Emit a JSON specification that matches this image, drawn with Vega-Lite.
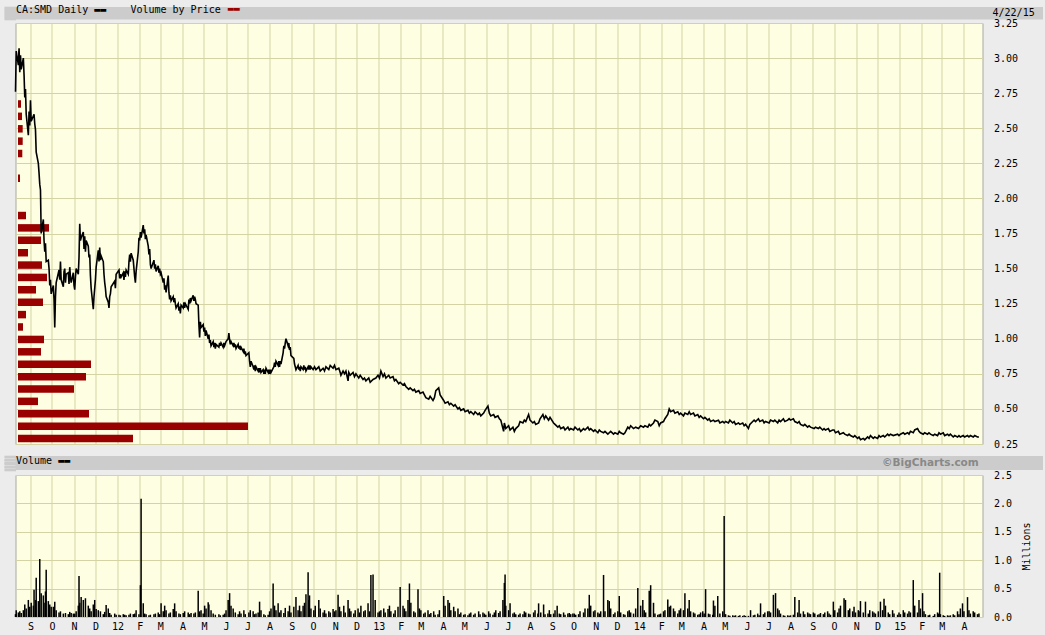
{
  "$schema": "https://vega.github.io/schema/vega-lite/v6.json",
  "background": "#ececec",
  "padding": {"left": 2.5, "top": 4, "right": 3, "bottom": 4},
  "config": {
    "font": "DejaVu Sans Mono",
    "view": {"fill": "#fefee2", "stroke": "#a8a8a8"},
    "axis": {
      "labelFont": "DejaVu Sans Mono", "labelFontSize": 10, "labelColor": "#000000",
      "titleFont": "DejaVu Sans Mono", "titleFontSize": 10, "titleFontWeight": "normal", "titleColor": "#000000",
      "gridColor": "#d3d3a3", "gridOpacity": 1, "gridWidth": 1, "domain": false, "ticks": false
    },
    "title": {
      "font": "DejaVu Sans Mono", "fontSize": 10, "fontWeight": "normal", "color": "#000000", "anchor": "start", "frame": "group",
      "subtitleFont": "DejaVu Sans Mono", "subtitleFontSize": 10
    }
  },
  "datasets": {
    "vbp": [
      {"price": 0.289, "vol": 11.5}, {"price": 0.377, "vol": 23.0}, {"price": 0.466, "vol": 7.1},
      {"price": 0.554, "vol": 2.0}, {"price": 0.642, "vol": 5.6}, {"price": 0.730, "vol": 6.8},
      {"price": 0.819, "vol": 7.3}, {"price": 0.907, "vol": 2.3}, {"price": 0.995, "vol": 2.6},
      {"price": 1.084, "vol": 0.5}, {"price": 1.172, "vol": 0.8}, {"price": 1.260, "vol": 2.5},
      {"price": 1.349, "vol": 1.8}, {"price": 1.437, "vol": 2.9}, {"price": 1.525, "vol": 2.4},
      {"price": 1.613, "vol": 1.0}, {"price": 1.702, "vol": 2.3}, {"price": 1.790, "vol": 3.1},
      {"price": 1.878, "vol": 0.8}, {"price": 2.143, "vol": 0.2}, {"price": 2.320, "vol": 0.43},
      {"price": 2.408, "vol": 0.47}, {"price": 2.496, "vol": 0.47}, {"price": 2.585, "vol": 0.4},
      {"price": 2.673, "vol": 0.3}, {"price": 3.026, "vol": 0.1}
    ],
    "price": [
      {"d": "2011/08/11", "p": 2.76}, {"d": "2011/08/12", "p": 3.05}, {"d": "2011/08/15", "p": 2.95},
      {"d": "2011/08/16", "p": 3.07}, {"d": "2011/08/17", "p": 2.90}, {"d": "2011/08/18", "p": 3.02},
      {"d": "2011/08/19", "p": 2.92}, {"d": "2011/08/22", "p": 3.00}, {"d": "2011/08/23", "p": 2.88},
      {"d": "2011/08/24", "p": 2.72}, {"d": "2011/08/25", "p": 2.78}, {"d": "2011/08/26", "p": 2.60},
      {"d": "2011/08/29", "p": 2.45}, {"d": "2011/08/30", "p": 2.62}, {"d": "2011/08/31", "p": 2.52},
      {"d": "2011/09/01", "p": 2.70}, {"d": "2011/09/02", "p": 2.55}, {"d": "2011/09/06", "p": 2.60},
      {"d": "2011/09/07", "p": 2.53}, {"d": "2011/09/08", "p": 2.49}, {"d": "2011/09/09", "p": 2.33},
      {"d": "2011/09/12", "p": 2.25}, {"d": "2011/09/13", "p": 2.18}, {"d": "2011/09/14", "p": 2.10},
      {"d": "2011/09/15", "p": 2.06}, {"d": "2011/09/16", "p": 1.75}, {"d": "2011/09/19", "p": 1.85},
      {"d": "2011/09/20", "p": 1.70}, {"d": "2011/09/21", "p": 1.62}, {"d": "2011/09/22", "p": 1.68},
      {"d": "2011/09/23", "p": 1.55}, {"d": "2011/09/26", "p": 1.56}, {"d": "2011/09/27", "p": 1.50},
      {"d": "2011/09/28", "p": 1.38}, {"d": "2011/09/29", "p": 1.42}, {"d": "2011/09/30", "p": 1.32},
      {"d": "2011/10/03", "p": 1.38}, {"d": "2011/10/04", "p": 1.28}, {"d": "2011/10/05", "p": 1.08},
      {"d": "2011/10/06", "p": 1.30}, {"d": "2011/10/07", "p": 1.40}, {"d": "2011/10/11", "p": 1.49},
      {"d": "2011/10/12", "p": 1.42}, {"d": "2011/10/13", "p": 1.55}, {"d": "2011/10/14", "p": 1.42},
      {"d": "2011/10/17", "p": 1.37}, {"d": "2011/10/18", "p": 1.48}, {"d": "2011/10/19", "p": 1.50},
      {"d": "2011/10/20", "p": 1.40}, {"d": "2011/10/21", "p": 1.46}, {"d": "2011/10/24", "p": 1.47},
      {"d": "2011/10/25", "p": 1.39}, {"d": "2011/10/26", "p": 1.51}, {"d": "2011/10/27", "p": 1.44},
      {"d": "2011/10/28", "p": 1.40}, {"d": "2011/10/31", "p": 1.47}, {"d": "2011/11/01", "p": 1.38},
      {"d": "2011/11/02", "p": 1.35}, {"d": "2011/11/03", "p": 1.44}, {"d": "2011/11/04", "p": 1.50},
      {"d": "2011/11/07", "p": 1.46}, {"d": "2011/11/08", "p": 1.58}, {"d": "2011/11/09", "p": 1.82},
      {"d": "2011/11/10", "p": 1.70}, {"d": "2011/11/11", "p": 1.72}, {"d": "2011/11/14", "p": 1.76},
      {"d": "2011/11/15", "p": 1.64}, {"d": "2011/11/16", "p": 1.73}, {"d": "2011/11/17", "p": 1.62},
      {"d": "2011/11/18", "p": 1.70}, {"d": "2011/11/21", "p": 1.66}, {"d": "2011/11/22", "p": 1.58},
      {"d": "2011/11/23", "p": 1.60}, {"d": "2011/11/24", "p": 1.45}, {"d": "2011/11/25", "p": 1.36},
      {"d": "2011/11/28", "p": 1.21}, {"d": "2011/11/29", "p": 1.30}, {"d": "2011/11/30", "p": 1.36},
      {"d": "2011/12/01", "p": 1.42}, {"d": "2011/12/02", "p": 1.51}, {"d": "2011/12/05", "p": 1.63},
      {"d": "2011/12/06", "p": 1.55}, {"d": "2011/12/07", "p": 1.65}, {"d": "2011/12/08", "p": 1.56},
      {"d": "2011/12/09", "p": 1.59}, {"d": "2011/12/12", "p": 1.55}, {"d": "2011/12/13", "p": 1.46},
      {"d": "2011/12/14", "p": 1.40}, {"d": "2011/12/15", "p": 1.36}, {"d": "2011/12/16", "p": 1.30},
      {"d": "2011/12/19", "p": 1.26}, {"d": "2011/12/20", "p": 1.22}, {"d": "2011/12/21", "p": 1.30},
      {"d": "2011/12/22", "p": 1.32}, {"d": "2011/12/23", "p": 1.37}, {"d": "2011/12/28", "p": 1.41},
      {"d": "2011/12/29", "p": 1.36}, {"d": "2011/12/30", "p": 1.46}, {"d": "2012/01/03", "p": 1.49},
      {"d": "2012/01/04", "p": 1.43}, {"d": "2012/01/05", "p": 1.46}, {"d": "2012/01/06", "p": 1.44},
      {"d": "2012/01/09", "p": 1.47}, {"d": "2012/01/10", "p": 1.42}, {"d": "2012/01/11", "p": 1.48},
      {"d": "2012/01/12", "p": 1.44}, {"d": "2012/01/13", "p": 1.49}, {"d": "2012/01/16", "p": 1.46},
      {"d": "2012/01/17", "p": 1.55}, {"d": "2012/01/18", "p": 1.60}, {"d": "2012/01/19", "p": 1.55},
      {"d": "2012/01/20", "p": 1.61}, {"d": "2012/01/23", "p": 1.56}, {"d": "2012/01/24", "p": 1.50},
      {"d": "2012/01/25", "p": 1.44}, {"d": "2012/01/26", "p": 1.40}, {"d": "2012/01/27", "p": 1.48},
      {"d": "2012/01/30", "p": 1.62}, {"d": "2012/01/31", "p": 1.72}, {"d": "2012/02/01", "p": 1.70},
      {"d": "2012/02/02", "p": 1.76}, {"d": "2012/02/03", "p": 1.72}, {"d": "2012/02/06", "p": 1.81},
      {"d": "2012/02/07", "p": 1.75}, {"d": "2012/02/08", "p": 1.78}, {"d": "2012/02/09", "p": 1.71},
      {"d": "2012/02/10", "p": 1.74}, {"d": "2012/02/13", "p": 1.66}, {"d": "2012/02/14", "p": 1.60},
      {"d": "2012/02/15", "p": 1.64}, {"d": "2012/02/16", "p": 1.53}, {"d": "2012/02/17", "p": 1.50},
      {"d": "2012/02/21", "p": 1.56}, {"d": "2012/02/22", "p": 1.50}, {"d": "2012/02/23", "p": 1.53},
      {"d": "2012/02/24", "p": 1.48}, {"d": "2012/02/27", "p": 1.52}, {"d": "2012/02/28", "p": 1.47},
      {"d": "2012/02/29", "p": 1.50}, {"d": "2012/03/01", "p": 1.46}, {"d": "2012/03/02", "p": 1.47},
      {"d": "2012/03/05", "p": 1.40}, {"d": "2012/03/06", "p": 1.43}, {"d": "2012/03/07", "p": 1.35},
      {"d": "2012/03/08", "p": 1.38}, {"d": "2012/03/09", "p": 1.33}, {"d": "2012/03/12", "p": 1.45},
      {"d": "2012/03/13", "p": 1.33}, {"d": "2012/03/14", "p": 1.28}, {"d": "2012/03/15", "p": 1.31},
      {"d": "2012/03/16", "p": 1.27}, {"d": "2012/03/19", "p": 1.30}, {"d": "2012/03/20", "p": 1.26},
      {"d": "2012/03/21", "p": 1.29}, {"d": "2012/03/22", "p": 1.25}, {"d": "2012/03/23", "p": 1.22},
      {"d": "2012/03/26", "p": 1.25}, {"d": "2012/03/27", "p": 1.20}, {"d": "2012/03/28", "p": 1.23},
      {"d": "2012/03/29", "p": 1.18}, {"d": "2012/03/30", "p": 1.24}, {"d": "2012/04/02", "p": 1.22},
      {"d": "2012/04/03", "p": 1.26}, {"d": "2012/04/04", "p": 1.22}, {"d": "2012/04/05", "p": 1.25},
      {"d": "2012/04/09", "p": 1.21}, {"d": "2012/04/10", "p": 1.28}, {"d": "2012/04/11", "p": 1.25},
      {"d": "2012/04/12", "p": 1.29}, {"d": "2012/04/13", "p": 1.27}, {"d": "2012/04/16", "p": 1.31},
      {"d": "2012/04/17", "p": 1.27}, {"d": "2012/04/18", "p": 1.30}, {"d": "2012/04/19", "p": 1.28},
      {"d": "2012/04/20", "p": 1.25}, {"d": "2012/04/23", "p": 1.24}, {"d": "2012/04/24", "p": 1.10},
      {"d": "2012/04/25", "p": 1.01}, {"d": "2012/04/26", "p": 1.12}, {"d": "2012/04/27", "p": 1.08},
      {"d": "2012/04/30", "p": 1.10}, {"d": "2012/05/01", "p": 1.05}, {"d": "2012/05/02", "p": 1.08},
      {"d": "2012/05/03", "p": 1.02}, {"d": "2012/05/04", "p": 1.06}, {"d": "2012/05/07", "p": 1.00},
      {"d": "2012/05/08", "p": 1.03}, {"d": "2012/05/09", "p": 0.97}, {"d": "2012/05/10", "p": 0.99},
      {"d": "2012/05/11", "p": 0.95}, {"d": "2012/05/14", "p": 0.98}, {"d": "2012/05/15", "p": 0.94},
      {"d": "2012/05/16", "p": 0.97}, {"d": "2012/05/17", "p": 0.93}, {"d": "2012/05/18", "p": 0.96},
      {"d": "2012/05/22", "p": 0.94}, {"d": "2012/05/23", "p": 0.97}, {"d": "2012/05/24", "p": 0.95},
      {"d": "2012/05/25", "p": 0.97}, {"d": "2012/05/28", "p": 0.94}, {"d": "2012/05/29", "p": 0.97},
      {"d": "2012/05/30", "p": 0.95}, {"d": "2012/06/01", "p": 0.98}, {"d": "2012/06/04", "p": 1.00},
      {"d": "2012/06/05", "p": 1.04}, {"d": "2012/06/06", "p": 0.99}, {"d": "2012/06/07", "p": 0.96},
      {"d": "2012/06/08", "p": 0.98}, {"d": "2012/06/11", "p": 0.95}, {"d": "2012/06/12", "p": 0.97},
      {"d": "2012/06/13", "p": 0.94}, {"d": "2012/06/14", "p": 0.96}, {"d": "2012/06/15", "p": 0.93},
      {"d": "2012/06/18", "p": 0.96}, {"d": "2012/06/19", "p": 0.93}, {"d": "2012/06/20", "p": 0.95},
      {"d": "2012/06/21", "p": 0.92}, {"d": "2012/06/22", "p": 0.94}, {"d": "2012/06/25", "p": 0.91},
      {"d": "2012/06/26", "p": 0.93}, {"d": "2012/06/27", "p": 0.89}, {"d": "2012/06/28", "p": 0.91},
      {"d": "2012/06/29", "p": 0.88}, {"d": "2012/07/03", "p": 0.90}, {"d": "2012/07/04", "p": 0.84},
      {"d": "2012/07/05", "p": 0.80}, {"d": "2012/07/06", "p": 0.84}, {"d": "2012/07/09", "p": 0.80},
      {"d": "2012/07/10", "p": 0.78}, {"d": "2012/07/11", "p": 0.81}, {"d": "2012/07/12", "p": 0.77},
      {"d": "2012/07/13", "p": 0.80}, {"d": "2012/07/16", "p": 0.77}, {"d": "2012/07/17", "p": 0.79},
      {"d": "2012/07/18", "p": 0.76}, {"d": "2012/07/19", "p": 0.79}, {"d": "2012/07/20", "p": 0.76},
      {"d": "2012/07/23", "p": 0.78}, {"d": "2012/07/24", "p": 0.75}, {"d": "2012/07/25", "p": 0.78},
      {"d": "2012/07/26", "p": 0.75}, {"d": "2012/07/27", "p": 0.79}, {"d": "2012/07/30", "p": 0.76},
      {"d": "2012/07/31", "p": 0.78}, {"d": "2012/08/01", "p": 0.75}, {"d": "2012/08/02", "p": 0.78},
      {"d": "2012/08/03", "p": 0.76}, {"d": "2012/08/07", "p": 0.80}, {"d": "2012/08/08", "p": 0.83},
      {"d": "2012/08/09", "p": 0.80}, {"d": "2012/08/10", "p": 0.84}, {"d": "2012/08/13", "p": 0.81},
      {"d": "2012/08/14", "p": 0.84}, {"d": "2012/08/15", "p": 0.80}, {"d": "2012/08/16", "p": 0.84},
      {"d": "2012/08/17", "p": 0.82}, {"d": "2012/08/20", "p": 0.90}, {"d": "2012/08/21", "p": 0.95},
      {"d": "2012/08/22", "p": 0.93}, {"d": "2012/08/23", "p": 0.97}, {"d": "2012/08/24", "p": 1.00},
      {"d": "2012/08/27", "p": 0.95}, {"d": "2012/08/28", "p": 0.97}, {"d": "2012/08/29", "p": 0.92},
      {"d": "2012/08/30", "p": 0.94}, {"d": "2012/08/31", "p": 0.88}, {"d": "2012/09/04", "p": 0.86},
      {"d": "2012/09/05", "p": 0.82}, {"d": "2012/09/06", "p": 0.80}, {"d": "2012/09/07", "p": 0.78},
      {"d": "2012/09/10", "p": 0.81}, {"d": "2012/09/11", "p": 0.78}, {"d": "2012/09/12", "p": 0.80},
      {"d": "2012/09/13", "p": 0.77}, {"d": "2012/09/14", "p": 0.80}, {"d": "2012/09/17", "p": 0.78},
      {"d": "2012/09/18", "p": 0.81}, {"d": "2012/09/19", "p": 0.78}, {"d": "2012/09/20", "p": 0.80},
      {"d": "2012/09/21", "p": 0.77}, {"d": "2012/09/24", "p": 0.80}, {"d": "2012/09/25", "p": 0.78},
      {"d": "2012/09/26", "p": 0.81}, {"d": "2012/09/27", "p": 0.78}, {"d": "2012/09/28", "p": 0.80},
      {"d": "2012/10/01", "p": 0.78}, {"d": "2012/10/03", "p": 0.80}, {"d": "2012/10/05", "p": 0.78},
      {"d": "2012/10/09", "p": 0.80}, {"d": "2012/10/11", "p": 0.77}, {"d": "2012/10/15", "p": 0.79},
      {"d": "2012/10/17", "p": 0.77}, {"d": "2012/10/19", "p": 0.80}, {"d": "2012/10/23", "p": 0.78},
      {"d": "2012/10/25", "p": 0.81}, {"d": "2012/10/29", "p": 0.79}, {"d": "2012/10/31", "p": 0.81},
      {"d": "2012/11/02", "p": 0.78}, {"d": "2012/11/06", "p": 0.79}, {"d": "2012/11/08", "p": 0.76},
      {"d": "2012/11/09", "p": 0.74}, {"d": "2012/11/12", "p": 0.77}, {"d": "2012/11/14", "p": 0.75},
      {"d": "2012/11/16", "p": 0.77}, {"d": "2012/11/19", "p": 0.70}, {"d": "2012/11/20", "p": 0.76},
      {"d": "2012/11/22", "p": 0.74}, {"d": "2012/11/26", "p": 0.76}, {"d": "2012/11/28", "p": 0.73},
      {"d": "2012/11/30", "p": 0.75}, {"d": "2012/12/04", "p": 0.72}, {"d": "2012/12/06", "p": 0.74},
      {"d": "2012/12/10", "p": 0.71}, {"d": "2012/12/12", "p": 0.72}, {"d": "2012/12/14", "p": 0.70},
      {"d": "2012/12/18", "p": 0.72}, {"d": "2012/12/20", "p": 0.69}, {"d": "2012/12/24", "p": 0.71},
      {"d": "2012/12/28", "p": 0.72}, {"d": "2012/12/31", "p": 0.74}, {"d": "2013/01/02", "p": 0.72},
      {"d": "2013/01/04", "p": 0.77}, {"d": "2013/01/07", "p": 0.73}, {"d": "2013/01/09", "p": 0.75},
      {"d": "2013/01/11", "p": 0.72}, {"d": "2013/01/15", "p": 0.74}, {"d": "2013/01/17", "p": 0.72},
      {"d": "2013/01/21", "p": 0.73}, {"d": "2013/01/23", "p": 0.70}, {"d": "2013/01/25", "p": 0.71},
      {"d": "2013/01/29", "p": 0.68}, {"d": "2013/01/31", "p": 0.69}, {"d": "2013/02/04", "p": 0.67},
      {"d": "2013/02/06", "p": 0.68}, {"d": "2013/02/08", "p": 0.66}, {"d": "2013/02/12", "p": 0.64},
      {"d": "2013/02/14", "p": 0.65}, {"d": "2013/02/18", "p": 0.63}, {"d": "2013/02/20", "p": 0.64},
      {"d": "2013/02/22", "p": 0.62}, {"d": "2013/02/26", "p": 0.63}, {"d": "2013/02/28", "p": 0.61},
      {"d": "2013/03/04", "p": 0.62}, {"d": "2013/03/06", "p": 0.60}, {"d": "2013/03/08", "p": 0.58},
      {"d": "2013/03/12", "p": 0.57}, {"d": "2013/03/14", "p": 0.59}, {"d": "2013/03/18", "p": 0.56},
      {"d": "2013/03/20", "p": 0.58}, {"d": "2013/03/22", "p": 0.63}, {"d": "2013/03/26", "p": 0.65},
      {"d": "2013/03/28", "p": 0.60}, {"d": "2013/04/02", "p": 0.56}, {"d": "2013/04/04", "p": 0.54},
      {"d": "2013/04/08", "p": 0.55}, {"d": "2013/04/10", "p": 0.53}, {"d": "2013/04/12", "p": 0.54},
      {"d": "2013/04/16", "p": 0.52}, {"d": "2013/04/18", "p": 0.53}, {"d": "2013/04/22", "p": 0.50},
      {"d": "2013/04/24", "p": 0.51}, {"d": "2013/04/26", "p": 0.49}, {"d": "2013/04/30", "p": 0.50},
      {"d": "2013/05/02", "p": 0.48}, {"d": "2013/05/06", "p": 0.49}, {"d": "2013/05/08", "p": 0.47},
      {"d": "2013/05/10", "p": 0.48}, {"d": "2013/05/14", "p": 0.46}, {"d": "2013/05/16", "p": 0.48},
      {"d": "2013/05/20", "p": 0.46}, {"d": "2013/05/22", "p": 0.47}, {"d": "2013/05/24", "p": 0.45},
      {"d": "2013/05/28", "p": 0.47}, {"d": "2013/05/30", "p": 0.49}, {"d": "2013/06/03", "p": 0.52},
      {"d": "2013/06/05", "p": 0.47}, {"d": "2013/06/07", "p": 0.45}, {"d": "2013/06/11", "p": 0.46},
      {"d": "2013/06/13", "p": 0.44}, {"d": "2013/06/17", "p": 0.45}, {"d": "2013/06/19", "p": 0.43},
      {"d": "2013/06/21", "p": 0.42}, {"d": "2013/06/25", "p": 0.34}, {"d": "2013/06/26", "p": 0.40},
      {"d": "2013/06/28", "p": 0.36}, {"d": "2013/07/02", "p": 0.38}, {"d": "2013/07/04", "p": 0.35},
      {"d": "2013/07/08", "p": 0.37}, {"d": "2013/07/10", "p": 0.34}, {"d": "2013/07/12", "p": 0.36},
      {"d": "2013/07/16", "p": 0.38}, {"d": "2013/07/18", "p": 0.41}, {"d": "2013/07/22", "p": 0.40},
      {"d": "2013/07/24", "p": 0.42}, {"d": "2013/07/26", "p": 0.41}, {"d": "2013/07/30", "p": 0.46},
      {"d": "2013/08/01", "p": 0.42}, {"d": "2013/08/05", "p": 0.40}, {"d": "2013/08/07", "p": 0.41},
      {"d": "2013/08/09", "p": 0.39}, {"d": "2013/08/13", "p": 0.40}, {"d": "2013/08/15", "p": 0.43},
      {"d": "2013/08/19", "p": 0.46}, {"d": "2013/08/21", "p": 0.43}, {"d": "2013/08/23", "p": 0.45},
      {"d": "2013/08/27", "p": 0.42}, {"d": "2013/08/29", "p": 0.44}, {"d": "2013/09/03", "p": 0.40},
      {"d": "2013/09/05", "p": 0.39}, {"d": "2013/09/09", "p": 0.37}, {"d": "2013/09/11", "p": 0.38},
      {"d": "2013/09/13", "p": 0.36}, {"d": "2013/09/17", "p": 0.37}, {"d": "2013/09/19", "p": 0.35},
      {"d": "2013/09/23", "p": 0.37}, {"d": "2013/09/25", "p": 0.35}, {"d": "2013/09/27", "p": 0.36},
      {"d": "2013/10/01", "p": 0.35}, {"d": "2013/10/03", "p": 0.37}, {"d": "2013/10/07", "p": 0.35},
      {"d": "2013/10/09", "p": 0.36}, {"d": "2013/10/11", "p": 0.34}, {"d": "2013/10/15", "p": 0.36},
      {"d": "2013/10/17", "p": 0.35}, {"d": "2013/10/21", "p": 0.37}, {"d": "2013/10/23", "p": 0.35},
      {"d": "2013/10/25", "p": 0.36}, {"d": "2013/10/29", "p": 0.34}, {"d": "2013/10/31", "p": 0.35},
      {"d": "2013/11/04", "p": 0.33}, {"d": "2013/11/06", "p": 0.35}, {"d": "2013/11/08", "p": 0.34},
      {"d": "2013/11/12", "p": 0.33}, {"d": "2013/11/14", "p": 0.34}, {"d": "2013/11/18", "p": 0.32},
      {"d": "2013/11/20", "p": 0.33}, {"d": "2013/11/22", "p": 0.34}, {"d": "2013/11/26", "p": 0.32},
      {"d": "2013/11/28", "p": 0.33}, {"d": "2013/12/02", "p": 0.32}, {"d": "2013/12/04", "p": 0.34},
      {"d": "2013/12/06", "p": 0.33}, {"d": "2013/12/10", "p": 0.32}, {"d": "2013/12/12", "p": 0.33},
      {"d": "2013/12/16", "p": 0.37}, {"d": "2013/12/18", "p": 0.36}, {"d": "2013/12/20", "p": 0.38},
      {"d": "2013/12/24", "p": 0.36}, {"d": "2013/12/27", "p": 0.37}, {"d": "2013/12/31", "p": 0.36},
      {"d": "2014/01/03", "p": 0.38}, {"d": "2014/01/07", "p": 0.37}, {"d": "2014/01/09", "p": 0.38},
      {"d": "2014/01/13", "p": 0.37}, {"d": "2014/01/15", "p": 0.39}, {"d": "2014/01/17", "p": 0.38},
      {"d": "2014/01/21", "p": 0.40}, {"d": "2014/01/23", "p": 0.42}, {"d": "2014/01/27", "p": 0.41},
      {"d": "2014/01/29", "p": 0.38}, {"d": "2014/01/31", "p": 0.40}, {"d": "2014/02/04", "p": 0.41},
      {"d": "2014/02/06", "p": 0.43}, {"d": "2014/02/10", "p": 0.46}, {"d": "2014/02/12", "p": 0.50},
      {"d": "2014/02/14", "p": 0.48}, {"d": "2014/02/18", "p": 0.49}, {"d": "2014/02/20", "p": 0.47},
      {"d": "2014/02/24", "p": 0.48}, {"d": "2014/02/26", "p": 0.46}, {"d": "2014/02/28", "p": 0.47},
      {"d": "2014/03/04", "p": 0.45}, {"d": "2014/03/06", "p": 0.47}, {"d": "2014/03/10", "p": 0.46},
      {"d": "2014/03/12", "p": 0.48}, {"d": "2014/03/14", "p": 0.46}, {"d": "2014/03/18", "p": 0.47},
      {"d": "2014/03/20", "p": 0.45}, {"d": "2014/03/24", "p": 0.46}, {"d": "2014/03/26", "p": 0.44},
      {"d": "2014/03/28", "p": 0.45}, {"d": "2014/04/01", "p": 0.43}, {"d": "2014/04/03", "p": 0.44},
      {"d": "2014/04/07", "p": 0.42}, {"d": "2014/04/09", "p": 0.43}, {"d": "2014/04/11", "p": 0.41},
      {"d": "2014/04/15", "p": 0.42}, {"d": "2014/04/17", "p": 0.41}, {"d": "2014/04/22", "p": 0.42},
      {"d": "2014/04/24", "p": 0.40}, {"d": "2014/04/28", "p": 0.41}, {"d": "2014/04/30", "p": 0.40},
      {"d": "2014/05/02", "p": 0.41}, {"d": "2014/05/06", "p": 0.40}, {"d": "2014/05/08", "p": 0.42},
      {"d": "2014/05/12", "p": 0.40}, {"d": "2014/05/14", "p": 0.41}, {"d": "2014/05/16", "p": 0.39},
      {"d": "2014/05/20", "p": 0.40}, {"d": "2014/05/22", "p": 0.39}, {"d": "2014/05/26", "p": 0.40},
      {"d": "2014/05/28", "p": 0.38}, {"d": "2014/05/30", "p": 0.39}, {"d": "2014/06/03", "p": 0.36},
      {"d": "2014/06/05", "p": 0.39}, {"d": "2014/06/09", "p": 0.41}, {"d": "2014/06/11", "p": 0.42},
      {"d": "2014/06/13", "p": 0.41}, {"d": "2014/06/17", "p": 0.43}, {"d": "2014/06/19", "p": 0.41},
      {"d": "2014/06/23", "p": 0.42}, {"d": "2014/06/25", "p": 0.40}, {"d": "2014/06/27", "p": 0.41},
      {"d": "2014/07/02", "p": 0.40}, {"d": "2014/07/04", "p": 0.42}, {"d": "2014/07/08", "p": 0.41},
      {"d": "2014/07/10", "p": 0.42}, {"d": "2014/07/14", "p": 0.40}, {"d": "2014/07/16", "p": 0.42},
      {"d": "2014/07/18", "p": 0.41}, {"d": "2014/07/22", "p": 0.43}, {"d": "2014/07/24", "p": 0.41},
      {"d": "2014/07/28", "p": 0.42}, {"d": "2014/07/30", "p": 0.43}, {"d": "2014/08/01", "p": 0.42},
      {"d": "2014/08/05", "p": 0.43}, {"d": "2014/08/07", "p": 0.41}, {"d": "2014/08/11", "p": 0.40},
      {"d": "2014/08/13", "p": 0.41}, {"d": "2014/08/15", "p": 0.39}, {"d": "2014/08/19", "p": 0.38},
      {"d": "2014/08/21", "p": 0.39}, {"d": "2014/08/25", "p": 0.37}, {"d": "2014/08/27", "p": 0.38},
      {"d": "2014/08/29", "p": 0.37}, {"d": "2014/09/03", "p": 0.36}, {"d": "2014/09/05", "p": 0.37},
      {"d": "2014/09/09", "p": 0.36}, {"d": "2014/09/11", "p": 0.37}, {"d": "2014/09/15", "p": 0.35},
      {"d": "2014/09/17", "p": 0.36}, {"d": "2014/09/19", "p": 0.35}, {"d": "2014/09/23", "p": 0.36},
      {"d": "2014/09/25", "p": 0.34}, {"d": "2014/09/29", "p": 0.35}, {"d": "2014/10/01", "p": 0.35},
      {"d": "2014/10/03", "p": 0.33}, {"d": "2014/10/07", "p": 0.34}, {"d": "2014/10/09", "p": 0.32},
      {"d": "2014/10/14", "p": 0.33}, {"d": "2014/10/16", "p": 0.32}, {"d": "2014/10/20", "p": 0.31},
      {"d": "2014/10/22", "p": 0.32}, {"d": "2014/10/24", "p": 0.31}, {"d": "2014/10/28", "p": 0.30},
      {"d": "2014/10/30", "p": 0.31}, {"d": "2014/11/03", "p": 0.29}, {"d": "2014/11/05", "p": 0.30},
      {"d": "2014/11/07", "p": 0.28}, {"d": "2014/11/11", "p": 0.29}, {"d": "2014/11/13", "p": 0.28},
      {"d": "2014/11/17", "p": 0.30}, {"d": "2014/11/19", "p": 0.29}, {"d": "2014/11/21", "p": 0.31},
      {"d": "2014/11/25", "p": 0.29}, {"d": "2014/11/27", "p": 0.30}, {"d": "2014/12/01", "p": 0.29},
      {"d": "2014/12/03", "p": 0.31}, {"d": "2014/12/05", "p": 0.30}, {"d": "2014/12/09", "p": 0.31},
      {"d": "2014/12/11", "p": 0.30}, {"d": "2014/12/15", "p": 0.32}, {"d": "2014/12/17", "p": 0.31},
      {"d": "2014/12/19", "p": 0.32}, {"d": "2014/12/23", "p": 0.31}, {"d": "2014/12/29", "p": 0.32},
      {"d": "2014/12/31", "p": 0.31}, {"d": "2015/01/02", "p": 0.32}, {"d": "2015/01/06", "p": 0.33},
      {"d": "2015/01/08", "p": 0.32}, {"d": "2015/01/12", "p": 0.33}, {"d": "2015/01/14", "p": 0.32},
      {"d": "2015/01/16", "p": 0.34}, {"d": "2015/01/20", "p": 0.33}, {"d": "2015/01/22", "p": 0.35},
      {"d": "2015/01/26", "p": 0.36}, {"d": "2015/01/28", "p": 0.34}, {"d": "2015/01/30", "p": 0.33},
      {"d": "2015/02/03", "p": 0.32}, {"d": "2015/02/05", "p": 0.33}, {"d": "2015/02/09", "p": 0.32},
      {"d": "2015/02/11", "p": 0.33}, {"d": "2015/02/13", "p": 0.32}, {"d": "2015/02/17", "p": 0.31},
      {"d": "2015/02/19", "p": 0.32}, {"d": "2015/02/23", "p": 0.31}, {"d": "2015/02/25", "p": 0.33},
      {"d": "2015/02/27", "p": 0.32}, {"d": "2015/03/03", "p": 0.33}, {"d": "2015/03/05", "p": 0.31},
      {"d": "2015/03/09", "p": 0.32}, {"d": "2015/03/11", "p": 0.31}, {"d": "2015/03/13", "p": 0.32},
      {"d": "2015/03/17", "p": 0.30}, {"d": "2015/03/19", "p": 0.31}, {"d": "2015/03/23", "p": 0.30},
      {"d": "2015/03/25", "p": 0.31}, {"d": "2015/03/27", "p": 0.30}, {"d": "2015/03/31", "p": 0.31},
      {"d": "2015/04/02", "p": 0.30}, {"d": "2015/04/06", "p": 0.31}, {"d": "2015/04/08", "p": 0.30},
      {"d": "2015/04/10", "p": 0.31}, {"d": "2015/04/14", "p": 0.30}, {"d": "2015/04/16", "p": 0.31},
      {"d": "2015/04/20", "p": 0.30}, {"d": "2015/04/22", "p": 0.30}
    ],
    "vol": [
      {"d": "2011/08/11", "v": 0.05}, {"d": "2011/08/12", "v": 0.12}, {"d": "2011/08/15", "v": 0.08}, {"d": "2011/08/17", "v": 0.10},
      {"d": "2011/08/19", "v": 0.07}, {"d": "2011/08/22", "v": 0.12}, {"d": "2011/08/24", "v": 0.22}, {"d": "2011/08/26", "v": 0.15},
      {"d": "2011/08/29", "v": 0.30}, {"d": "2011/08/31", "v": 0.18},
      {"d": "2011/09/02", "v": 0.25}, {"d": "2011/09/05", "v": 0.20}, {"d": "2011/09/06", "v": 0.48}, {"d": "2011/09/08", "v": 0.30},
      {"d": "2011/09/09", "v": 0.69}, {"d": "2011/09/12", "v": 0.28}, {"d": "2011/09/14", "v": 1.02}, {"d": "2011/09/16", "v": 0.42},
      {"d": "2011/09/19", "v": 0.38}, {"d": "2011/09/20", "v": 0.25}, {"d": "2011/09/22", "v": 0.45}, {"d": "2011/09/23", "v": 0.83},
      {"d": "2011/09/26", "v": 0.28}, {"d": "2011/09/28", "v": 0.22}, {"d": "2011/09/30", "v": 0.18},
      {"d": "2011/10/03", "v": 0.18}, {"d": "2011/10/05", "v": 0.27}, {"d": "2011/10/07", "v": 0.12}, {"d": "2011/10/11", "v": 0.08},
      {"d": "2011/10/13", "v": 0.10}, {"d": "2011/10/17", "v": 0.06}, {"d": "2011/10/20", "v": 0.07}, {"d": "2011/10/24", "v": 0.05},
      {"d": "2011/10/26", "v": 0.09}, {"d": "2011/10/28", "v": 0.07}, {"d": "2011/10/31", "v": 0.06},
      {"d": "2011/11/02", "v": 0.06}, {"d": "2011/11/04", "v": 0.10}, {"d": "2011/11/07", "v": 0.20}, {"d": "2011/11/08", "v": 0.72},
      {"d": "2011/11/09", "v": 0.25}, {"d": "2011/11/11", "v": 0.35}, {"d": "2011/11/14", "v": 0.30}, {"d": "2011/11/17", "v": 0.33},
      {"d": "2011/11/21", "v": 0.20}, {"d": "2011/11/23", "v": 0.15}, {"d": "2011/11/25", "v": 0.10}, {"d": "2011/11/28", "v": 0.22},
      {"d": "2011/11/30", "v": 0.30},
      {"d": "2011/12/02", "v": 0.14}, {"d": "2011/12/05", "v": 0.12}, {"d": "2011/12/08", "v": 0.10}, {"d": "2011/12/12", "v": 0.05},
      {"d": "2011/12/14", "v": 0.09}, {"d": "2011/12/16", "v": 0.21}, {"d": "2011/12/19", "v": 0.15}, {"d": "2011/12/21", "v": 0.07},
      {"d": "2011/12/23", "v": 0.04}, {"d": "2011/12/28", "v": 0.06}, {"d": "2011/12/30", "v": 0.04},
      {"d": "2012/01/03", "v": 0.04}, {"d": "2012/01/05", "v": 0.03}, {"d": "2012/01/09", "v": 0.05}, {"d": "2012/01/11", "v": 0.04},
      {"d": "2012/01/13", "v": 0.03}, {"d": "2012/01/17", "v": 0.04}, {"d": "2012/01/19", "v": 0.06}, {"d": "2012/01/23", "v": 0.05},
      {"d": "2012/01/25", "v": 0.06}, {"d": "2012/01/27", "v": 0.12}, {"d": "2012/01/31", "v": 0.05},
      {"d": "2012/02/02", "v": 0.56}, {"d": "2012/02/03", "v": 2.08}, {"d": "2012/02/06", "v": 0.24}, {"d": "2012/02/08", "v": 0.06},
      {"d": "2012/02/10", "v": 0.05}, {"d": "2012/02/14", "v": 0.03}, {"d": "2012/02/16", "v": 0.04}, {"d": "2012/02/21", "v": 0.05},
      {"d": "2012/02/23", "v": 0.06}, {"d": "2012/02/27", "v": 0.08}, {"d": "2012/02/29", "v": 0.05},
      {"d": "2012/03/02", "v": 0.24}, {"d": "2012/03/05", "v": 0.10}, {"d": "2012/03/07", "v": 0.20}, {"d": "2012/03/09", "v": 0.12},
      {"d": "2012/03/13", "v": 0.06}, {"d": "2012/03/15", "v": 0.08}, {"d": "2012/03/19", "v": 0.14}, {"d": "2012/03/21", "v": 0.24},
      {"d": "2012/03/23", "v": 0.10}, {"d": "2012/03/27", "v": 0.06}, {"d": "2012/03/29", "v": 0.05},
      {"d": "2012/04/02", "v": 0.07}, {"d": "2012/04/04", "v": 0.10}, {"d": "2012/04/09", "v": 0.08}, {"d": "2012/04/11", "v": 0.05},
      {"d": "2012/04/13", "v": 0.07}, {"d": "2012/04/17", "v": 0.06}, {"d": "2012/04/19", "v": 0.08}, {"d": "2012/04/23", "v": 0.46},
      {"d": "2012/04/25", "v": 0.10}, {"d": "2012/04/27", "v": 0.12}, {"d": "2012/04/30", "v": 0.06},
      {"d": "2012/05/02", "v": 0.20}, {"d": "2012/05/04", "v": 0.15}, {"d": "2012/05/07", "v": 0.26}, {"d": "2012/05/08", "v": 0.22},
      {"d": "2012/05/11", "v": 0.12}, {"d": "2012/05/14", "v": 0.06}, {"d": "2012/05/17", "v": 0.04}, {"d": "2012/05/22", "v": 0.05},
      {"d": "2012/05/24", "v": 0.03}, {"d": "2012/05/28", "v": 0.04}, {"d": "2012/05/30", "v": 0.06},
      {"d": "2012/06/01", "v": 0.12}, {"d": "2012/06/04", "v": 0.30}, {"d": "2012/06/06", "v": 0.42}, {"d": "2012/06/08", "v": 0.20},
      {"d": "2012/06/11", "v": 0.15}, {"d": "2012/06/14", "v": 0.08}, {"d": "2012/06/18", "v": 0.05}, {"d": "2012/06/20", "v": 0.10},
      {"d": "2012/06/22", "v": 0.06}, {"d": "2012/06/26", "v": 0.12}, {"d": "2012/06/28", "v": 0.05},
      {"d": "2012/07/03", "v": 0.08}, {"d": "2012/07/05", "v": 0.12}, {"d": "2012/07/09", "v": 0.10}, {"d": "2012/07/11", "v": 0.05},
      {"d": "2012/07/13", "v": 0.06}, {"d": "2012/07/16", "v": 0.08}, {"d": "2012/07/18", "v": 0.27}, {"d": "2012/07/20", "v": 0.12},
      {"d": "2012/07/24", "v": 0.05}, {"d": "2012/07/26", "v": 0.03}, {"d": "2012/07/30", "v": 0.04},
      {"d": "2012/08/01", "v": 0.10}, {"d": "2012/08/03", "v": 0.15}, {"d": "2012/08/06", "v": 0.59}, {"d": "2012/08/08", "v": 0.20},
      {"d": "2012/08/10", "v": 0.12}, {"d": "2012/08/13", "v": 0.24}, {"d": "2012/08/15", "v": 0.08}, {"d": "2012/08/17", "v": 0.12},
      {"d": "2012/08/21", "v": 0.07}, {"d": "2012/08/23", "v": 0.16}, {"d": "2012/08/27", "v": 0.10}, {"d": "2012/08/29", "v": 0.20},
      {"d": "2012/08/31", "v": 0.08},
      {"d": "2012/09/04", "v": 0.18}, {"d": "2012/09/07", "v": 0.35}, {"d": "2012/09/10", "v": 0.12}, {"d": "2012/09/12", "v": 0.20},
      {"d": "2012/09/14", "v": 0.10}, {"d": "2012/09/17", "v": 0.20}, {"d": "2012/09/19", "v": 0.25}, {"d": "2012/09/21", "v": 0.40},
      {"d": "2012/09/24", "v": 0.79}, {"d": "2012/09/25", "v": 0.30}, {"d": "2012/09/26", "v": 0.38}, {"d": "2012/09/28", "v": 0.15},
      {"d": "2012/10/02", "v": 0.12}, {"d": "2012/10/04", "v": 0.20}, {"d": "2012/10/09", "v": 0.30}, {"d": "2012/10/11", "v": 0.15},
      {"d": "2012/10/15", "v": 0.08}, {"d": "2012/10/17", "v": 0.12}, {"d": "2012/10/19", "v": 0.06}, {"d": "2012/10/23", "v": 0.10},
      {"d": "2012/10/25", "v": 0.08}, {"d": "2012/10/29", "v": 0.14}, {"d": "2012/10/31", "v": 0.10},
      {"d": "2012/11/02", "v": 0.12}, {"d": "2012/11/05", "v": 0.39}, {"d": "2012/11/07", "v": 0.18}, {"d": "2012/11/09", "v": 0.10},
      {"d": "2012/11/13", "v": 0.20}, {"d": "2012/11/15", "v": 0.08}, {"d": "2012/11/19", "v": 0.30}, {"d": "2012/11/21", "v": 0.15},
      {"d": "2012/11/23", "v": 0.10}, {"d": "2012/11/27", "v": 0.06}, {"d": "2012/11/29", "v": 0.12},
      {"d": "2012/12/03", "v": 0.15}, {"d": "2012/12/05", "v": 0.08}, {"d": "2012/12/07", "v": 0.20}, {"d": "2012/12/11", "v": 0.10},
      {"d": "2012/12/13", "v": 0.12}, {"d": "2012/12/17", "v": 0.24}, {"d": "2012/12/19", "v": 0.10}, {"d": "2012/12/21", "v": 0.74},
      {"d": "2012/12/24", "v": 0.75}, {"d": "2012/12/27", "v": 0.30}, {"d": "2012/12/31", "v": 0.08},
      {"d": "2013/01/02", "v": 0.10}, {"d": "2013/01/04", "v": 0.12}, {"d": "2013/01/08", "v": 0.15}, {"d": "2013/01/10", "v": 0.08},
      {"d": "2013/01/14", "v": 0.14}, {"d": "2013/01/16", "v": 0.20}, {"d": "2013/01/18", "v": 0.10}, {"d": "2013/01/22", "v": 0.06},
      {"d": "2013/01/24", "v": 0.12}, {"d": "2013/01/28", "v": 0.18}, {"d": "2013/01/31", "v": 0.53},
      {"d": "2013/02/04", "v": 0.20}, {"d": "2013/02/06", "v": 0.15}, {"d": "2013/02/08", "v": 0.10}, {"d": "2013/02/11", "v": 0.30},
      {"d": "2013/02/13", "v": 0.59}, {"d": "2013/02/15", "v": 0.25}, {"d": "2013/02/19", "v": 0.10}, {"d": "2013/02/21", "v": 0.08},
      {"d": "2013/02/25", "v": 0.49}, {"d": "2013/02/27", "v": 0.15},
      {"d": "2013/03/01", "v": 0.12}, {"d": "2013/03/05", "v": 0.06}, {"d": "2013/03/07", "v": 0.08}, {"d": "2013/03/11", "v": 0.12},
      {"d": "2013/03/13", "v": 0.05}, {"d": "2013/03/15", "v": 0.07}, {"d": "2013/03/19", "v": 0.10}, {"d": "2013/03/21", "v": 0.04},
      {"d": "2013/03/25", "v": 0.05}, {"d": "2013/03/27", "v": 0.12},
      {"d": "2013/04/02", "v": 0.37}, {"d": "2013/04/04", "v": 0.20}, {"d": "2013/04/08", "v": 0.30}, {"d": "2013/04/10", "v": 0.25},
      {"d": "2013/04/12", "v": 0.12}, {"d": "2013/04/16", "v": 0.18}, {"d": "2013/04/18", "v": 0.10}, {"d": "2013/04/22", "v": 0.15},
      {"d": "2013/04/24", "v": 0.05}, {"d": "2013/04/26", "v": 0.08}, {"d": "2013/04/30", "v": 0.04},
      {"d": "2013/05/02", "v": 0.05}, {"d": "2013/05/06", "v": 0.03}, {"d": "2013/05/08", "v": 0.06}, {"d": "2013/05/10", "v": 0.08},
      {"d": "2013/05/14", "v": 0.04}, {"d": "2013/05/16", "v": 0.06}, {"d": "2013/05/21", "v": 0.10}, {"d": "2013/05/23", "v": 0.05},
      {"d": "2013/05/27", "v": 0.08}, {"d": "2013/05/29", "v": 0.06}, {"d": "2013/05/31", "v": 0.04},
      {"d": "2013/06/04", "v": 0.10}, {"d": "2013/06/06", "v": 0.06}, {"d": "2013/06/10", "v": 0.04}, {"d": "2013/06/12", "v": 0.08},
      {"d": "2013/06/14", "v": 0.12}, {"d": "2013/06/18", "v": 0.07}, {"d": "2013/06/20", "v": 0.10}, {"d": "2013/06/24", "v": 0.30},
      {"d": "2013/06/26", "v": 0.60}, {"d": "2013/06/27", "v": 0.75}, {"d": "2013/06/28", "v": 0.20},
      {"d": "2013/07/02", "v": 0.12}, {"d": "2013/07/04", "v": 0.24}, {"d": "2013/07/08", "v": 0.06}, {"d": "2013/07/10", "v": 0.08},
      {"d": "2013/07/12", "v": 0.05}, {"d": "2013/07/16", "v": 0.04}, {"d": "2013/07/18", "v": 0.06}, {"d": "2013/07/22", "v": 0.05},
      {"d": "2013/07/24", "v": 0.10}, {"d": "2013/07/26", "v": 0.08}, {"d": "2013/07/30", "v": 0.06},
      {"d": "2013/08/01", "v": 0.05}, {"d": "2013/08/06", "v": 0.08}, {"d": "2013/08/08", "v": 0.12}, {"d": "2013/08/12", "v": 0.06},
      {"d": "2013/08/13", "v": 0.24}, {"d": "2013/08/16", "v": 0.08}, {"d": "2013/08/20", "v": 0.22}, {"d": "2013/08/22", "v": 0.05},
      {"d": "2013/08/26", "v": 0.06}, {"d": "2013/08/28", "v": 0.12}, {"d": "2013/08/30", "v": 0.05},
      {"d": "2013/09/03", "v": 0.06}, {"d": "2013/09/05", "v": 0.12}, {"d": "2013/09/08", "v": 0.20}, {"d": "2013/09/11", "v": 0.06},
      {"d": "2013/09/13", "v": 0.05}, {"d": "2013/09/17", "v": 0.08}, {"d": "2013/09/19", "v": 0.04}, {"d": "2013/09/23", "v": 0.06},
      {"d": "2013/09/25", "v": 0.07}, {"d": "2013/09/27", "v": 0.05}, {"d": "2013/09/30", "v": 0.06},
      {"d": "2013/10/02", "v": 0.06}, {"d": "2013/10/04", "v": 0.04}, {"d": "2013/10/08", "v": 0.05}, {"d": "2013/10/10", "v": 0.10},
      {"d": "2013/10/15", "v": 0.08}, {"d": "2013/10/17", "v": 0.15}, {"d": "2013/10/21", "v": 0.15}, {"d": "2013/10/23", "v": 0.39},
      {"d": "2013/10/25", "v": 0.20}, {"d": "2013/10/29", "v": 0.10}, {"d": "2013/10/31", "v": 0.12},
      {"d": "2013/11/04", "v": 0.08}, {"d": "2013/11/06", "v": 0.06}, {"d": "2013/11/08", "v": 0.10}, {"d": "2013/11/12", "v": 0.74},
      {"d": "2013/11/14", "v": 0.10}, {"d": "2013/11/18", "v": 0.30}, {"d": "2013/11/20", "v": 0.28}, {"d": "2013/11/22", "v": 0.15},
      {"d": "2013/11/26", "v": 0.05}, {"d": "2013/11/28", "v": 0.08},
      {"d": "2013/12/02", "v": 0.10}, {"d": "2013/12/04", "v": 0.37}, {"d": "2013/12/06", "v": 0.08}, {"d": "2013/12/10", "v": 0.05},
      {"d": "2013/12/12", "v": 0.04}, {"d": "2013/12/16", "v": 0.10}, {"d": "2013/12/18", "v": 0.12}, {"d": "2013/12/20", "v": 0.08},
      {"d": "2013/12/24", "v": 0.06}, {"d": "2013/12/27", "v": 0.15}, {"d": "2013/12/30", "v": 0.51},
      {"d": "2014/01/03", "v": 0.20}, {"d": "2014/01/06", "v": 0.30}, {"d": "2014/01/08", "v": 0.12}, {"d": "2014/01/10", "v": 0.08},
      {"d": "2014/01/15", "v": 0.46}, {"d": "2014/01/17", "v": 0.56}, {"d": "2014/01/21", "v": 0.25}, {"d": "2014/01/23", "v": 0.06},
      {"d": "2014/01/27", "v": 0.04}, {"d": "2014/01/29", "v": 0.05}, {"d": "2014/01/31", "v": 0.06},
      {"d": "2014/02/04", "v": 0.10}, {"d": "2014/02/06", "v": 0.12}, {"d": "2014/02/10", "v": 0.31}, {"d": "2014/02/12", "v": 0.18},
      {"d": "2014/02/14", "v": 0.20}, {"d": "2014/02/18", "v": 0.15}, {"d": "2014/02/20", "v": 0.10}, {"d": "2014/02/24", "v": 0.06},
      {"d": "2014/02/26", "v": 0.12}, {"d": "2014/02/28", "v": 0.15},
      {"d": "2014/03/04", "v": 0.12}, {"d": "2014/03/06", "v": 0.42}, {"d": "2014/03/10", "v": 0.15}, {"d": "2014/03/12", "v": 0.30},
      {"d": "2014/03/14", "v": 0.10}, {"d": "2014/03/18", "v": 0.08}, {"d": "2014/03/20", "v": 0.06}, {"d": "2014/03/24", "v": 0.04},
      {"d": "2014/03/26", "v": 0.05}, {"d": "2014/03/28", "v": 0.08}, {"d": "2014/03/31", "v": 0.10},
      {"d": "2014/04/02", "v": 0.06}, {"d": "2014/04/04", "v": 0.49}, {"d": "2014/04/08", "v": 0.06}, {"d": "2014/04/10", "v": 0.05},
      {"d": "2014/04/14", "v": 0.04}, {"d": "2014/04/15", "v": 0.29}, {"d": "2014/04/17", "v": 0.20}, {"d": "2014/04/21", "v": 0.37},
      {"d": "2014/04/24", "v": 0.06}, {"d": "2014/04/28", "v": 0.10}, {"d": "2014/04/30", "v": 1.78},
      {"d": "2014/05/02", "v": 0.05}, {"d": "2014/05/06", "v": 0.03}, {"d": "2014/05/08", "v": 0.02}, {"d": "2014/05/12", "v": 0.03},
      {"d": "2014/05/14", "v": 0.02}, {"d": "2014/05/16", "v": 0.03}, {"d": "2014/05/20", "v": 0.02}, {"d": "2014/05/22", "v": 0.03},
      {"d": "2014/05/26", "v": 0.02}, {"d": "2014/05/28", "v": 0.03}, {"d": "2014/05/30", "v": 0.02},
      {"d": "2014/06/03", "v": 0.02}, {"d": "2014/06/06", "v": 0.12}, {"d": "2014/06/10", "v": 0.03}, {"d": "2014/06/12", "v": 0.04},
      {"d": "2014/06/16", "v": 0.06}, {"d": "2014/06/18", "v": 0.03}, {"d": "2014/06/20", "v": 0.24}, {"d": "2014/06/24", "v": 0.05},
      {"d": "2014/06/26", "v": 0.08}, {"d": "2014/06/30", "v": 0.10},
      {"d": "2014/07/02", "v": 0.10}, {"d": "2014/07/04", "v": 0.08}, {"d": "2014/07/08", "v": 0.39}, {"d": "2014/07/11", "v": 0.42},
      {"d": "2014/07/14", "v": 0.15}, {"d": "2014/07/16", "v": 0.12}, {"d": "2014/07/18", "v": 0.06}, {"d": "2014/07/22", "v": 0.03},
      {"d": "2014/07/24", "v": 0.02}, {"d": "2014/07/28", "v": 0.03}, {"d": "2014/07/30", "v": 0.02},
      {"d": "2014/08/01", "v": 0.03}, {"d": "2014/08/05", "v": 0.04}, {"d": "2014/08/07", "v": 0.35}, {"d": "2014/08/11", "v": 0.08},
      {"d": "2014/08/13", "v": 0.30}, {"d": "2014/08/15", "v": 0.06}, {"d": "2014/08/19", "v": 0.10}, {"d": "2014/08/21", "v": 0.05},
      {"d": "2014/08/25", "v": 0.08}, {"d": "2014/08/27", "v": 0.06}, {"d": "2014/08/29", "v": 0.05},
      {"d": "2014/09/02", "v": 0.08}, {"d": "2014/09/04", "v": 0.06}, {"d": "2014/09/08", "v": 0.04}, {"d": "2014/09/10", "v": 0.05},
      {"d": "2014/09/12", "v": 0.07}, {"d": "2014/09/16", "v": 0.05}, {"d": "2014/09/18", "v": 0.08}, {"d": "2014/09/22", "v": 0.10},
      {"d": "2014/09/24", "v": 0.06}, {"d": "2014/09/26", "v": 0.04}, {"d": "2014/09/30", "v": 0.27},
      {"d": "2014/10/02", "v": 0.12}, {"d": "2014/10/06", "v": 0.08}, {"d": "2014/10/08", "v": 0.15}, {"d": "2014/10/10", "v": 0.20},
      {"d": "2014/10/15", "v": 0.33}, {"d": "2014/10/17", "v": 0.30}, {"d": "2014/10/21", "v": 0.12}, {"d": "2014/10/23", "v": 0.15},
      {"d": "2014/10/27", "v": 0.10}, {"d": "2014/10/29", "v": 0.18}, {"d": "2014/10/31", "v": 0.08},
      {"d": "2014/11/04", "v": 0.12}, {"d": "2014/11/05", "v": 0.10}, {"d": "2014/11/07", "v": 0.28}, {"d": "2014/11/11", "v": 0.08},
      {"d": "2014/11/14", "v": 0.27}, {"d": "2014/11/18", "v": 0.06}, {"d": "2014/11/20", "v": 0.12}, {"d": "2014/11/24", "v": 0.10},
      {"d": "2014/11/26", "v": 0.08}, {"d": "2014/11/28", "v": 0.06},
      {"d": "2014/12/02", "v": 0.10}, {"d": "2014/12/05", "v": 0.27}, {"d": "2014/12/08", "v": 0.12}, {"d": "2014/12/10", "v": 0.32},
      {"d": "2014/12/12", "v": 0.20}, {"d": "2014/12/16", "v": 0.08}, {"d": "2014/12/18", "v": 0.05}, {"d": "2014/12/22", "v": 0.12},
      {"d": "2014/12/24", "v": 0.06}, {"d": "2014/12/29", "v": 0.04}, {"d": "2014/12/31", "v": 0.08},
      {"d": "2015/01/02", "v": 0.05}, {"d": "2015/01/06", "v": 0.12}, {"d": "2015/01/08", "v": 0.08}, {"d": "2015/01/12", "v": 0.06},
      {"d": "2015/01/14", "v": 0.10}, {"d": "2015/01/16", "v": 0.08}, {"d": "2015/01/20", "v": 0.65}, {"d": "2015/01/22", "v": 0.20},
      {"d": "2015/01/26", "v": 0.08}, {"d": "2015/01/28", "v": 0.30}, {"d": "2015/01/30", "v": 0.15},
      {"d": "2015/02/02", "v": 0.42}, {"d": "2015/02/04", "v": 0.10}, {"d": "2015/02/06", "v": 0.05}, {"d": "2015/02/10", "v": 0.03},
      {"d": "2015/02/12", "v": 0.04}, {"d": "2015/02/17", "v": 0.02}, {"d": "2015/02/19", "v": 0.05}, {"d": "2015/02/23", "v": 0.08},
      {"d": "2015/02/24", "v": 0.06}, {"d": "2015/02/26", "v": 0.78}, {"d": "2015/02/27", "v": 0.05},
      {"d": "2015/03/03", "v": 0.03}, {"d": "2015/03/05", "v": 0.02}, {"d": "2015/03/09", "v": 0.03}, {"d": "2015/03/11", "v": 0.02},
      {"d": "2015/03/13", "v": 0.03}, {"d": "2015/03/17", "v": 0.05}, {"d": "2015/03/19", "v": 0.03}, {"d": "2015/03/23", "v": 0.10},
      {"d": "2015/03/25", "v": 0.05}, {"d": "2015/03/27", "v": 0.15}, {"d": "2015/03/30", "v": 0.24},
      {"d": "2015/04/01", "v": 0.10}, {"d": "2015/04/06", "v": 0.35}, {"d": "2015/04/08", "v": 0.12}, {"d": "2015/04/10", "v": 0.06},
      {"d": "2015/04/14", "v": 0.10}, {"d": "2015/04/16", "v": 0.08}, {"d": "2015/04/20", "v": 0.05}, {"d": "2015/04/22", "v": 0.06}
    ]
  },
  "spacing": 5,
  "vconcat": [
    {
      "spacing": -3,
      "vconcat": [
        {
          "width": 1027.5,
          "height": 12.5,
          "view": {"fill": "#cccccc", "stroke": null},
          "title": {
            "text": "CA:SMD Daily ▬▬\u00a0\u00a0\u00a0\u00a0Volume by Price",
            "subtitle": "\u2800\u00a0\u00a0\u00a0\u00a0\u00a0\u00a0\u00a0\u00a0\u00a0\u00a0\u00a0\u00a0\u00a0\u00a0\u00a0\u00a0\u00a0\u00a0\u00a0\u00a0\u00a0\u00a0\u00a0\u00a0\u00a0\u00a0\u00a0\u00a0\u00a0\u00a0\u00a0\u00a0\u00a0\u00a0▬▬",
            "subtitleColor": "#990000",
            "offset": -10,
            "dx": 0.5,
            "subtitlePadding": -11
          },
          "data": {"name": "price"},
          "mark": {"type": "text", "align": "right", "baseline": "middle", "font": "DejaVu Sans Mono", "fontSize": 10, "color": "#000000"},
          "encoding": {
            "x": {
              "aggregate": "max", "field": "d", "type": "temporal",
              "scale": {"domain": [{"year": 2011, "month": 8, "date": 11}, {"year": 2015, "month": 5, "date": 3}], "nice": false},
              "axis": null
            },
            "y": {
              "datum": 0.5, "type": "quantitative",
              "scale": {"domain": [0, 1], "nice": false},
              "axis": {
                "orient": "left", "labels": false, "grid": false, "ticks": true, "tickSize": 11.5, "tickWidth": 1.6, "tickColor": "#cccccc", "title": null,
                "values": [0.0385, 0.1154, 0.1923, 0.2692, 0.3462, 0.4231, 0.5, 0.5769, 0.6538, 0.7308, 0.8077, 0.8846, 0.9615]
              }
            },
            "text": {"aggregate": "max", "field": "d", "type": "temporal", "format": "%-m/%d/%y"}
          }
        },
        {
          "width": 967,
          "height": 421,
          "layer": [
            {
              "data": {"name": "vbp"},
              "mark": {"type": "bar", "orient": "horizontal", "color": "#990000", "size": 7.5},
              "encoding": {
                "y": {
                  "field": "price", "type": "quantitative",
                  "scale": {"domain": [0.25, 3.25], "nice": false, "zero": false, "padding": 0},
                  "axis": null
                },
                "x": {
                  "field": "vol", "type": "quantitative",
                  "scale": {"domain": [-0.25, 96.45], "nice": false, "zero": false, "padding": 0},
                  "axis": null
                }
              }
            },
            {
              "data": {"name": "price"},
              "mark": {"type": "line", "color": "#000000", "strokeWidth": 1.6},
              "encoding": {
                "x": {
                  "field": "d", "type": "temporal",
                  "scale": {"domain": [{"year": 2011, "month": 8, "date": 11}, {"year": 2015, "month": 4, "date": 27}], "nice": false},
                  "axis": {"grid": true, "labels": false, "tickCount": {"interval": "month", "step": 1}, "title": null}
                },
                "y": {
                  "field": "p", "type": "quantitative",
                  "scale": {"domain": [0.25, 3.25], "nice": false, "zero": false},
                  "axis": {"orient": "right", "values": [0.25, 0.5, 0.75, 1, 1.25, 1.5, 1.75, 2, 2.25, 2.5, 2.75, 3, 3.25], "format": ".2f", "grid": true, "labelPadding": 11, "title": null}
                }
              }
            }
          ],
          "resolve": {"scale": {"x": "independent", "y": "independent"}, "axis": {"y": "independent"}}
        }
      ]
    },
    {
      "spacing": -2,
      "vconcat": [
        {
          "width": 1027.5,
          "height": 14,
          "view": {"fill": "#cccccc", "stroke": null},
          "title": {"text": "Volume ▬▬", "offset": -11, "dx": 0.5},
          "data": {"name": "vol"},
          "mark": {"type": "text", "text": "©BigCharts.com", "align": "right", "baseline": "middle", "font": "DejaVu Sans", "fontWeight": "bold", "fontSize": 10.5, "color": "#888888"},
          "encoding": {
            "x": {
              "aggregate": "max", "field": "d", "type": "temporal",
              "scale": {"domain": [{"year": 2011, "month": 8, "date": 11}, {"year": 2015, "month": 7, "date": 21}], "nice": false},
              "axis": null
            },
            "y": {
              "datum": 0.5, "type": "quantitative",
              "scale": {"domain": [0, 1], "nice": false},
              "axis": {
                "orient": "left", "labels": false, "grid": false, "ticks": true, "tickSize": 11.5, "tickWidth": 1.6, "tickColor": "#cccccc", "title": null,
                "values": [0.0357, 0.1071, 0.1786, 0.25, 0.3214, 0.3929, 0.4643, 0.5357, 0.6071, 0.6786, 0.75, 0.8214, 0.8929, 0.9643]
              }
            }
          }
        },
        {
          "width": 967,
          "height": 142,
          "data": {"name": "vol"},
          "mark": {"type": "bar", "color": "#000000", "size": 1.5},
          "encoding": {
            "x": {
              "field": "d", "type": "temporal",
              "scale": {"domain": [{"year": 2011, "month": 8, "date": 11}, {"year": 2015, "month": 4, "date": 27}], "nice": false, "padding": 0},
              "axis": {
                "grid": true, "tickCount": {"interval": "month", "step": 1}, "title": null,
                "labelExpr": "month(datum.value) == 0 ? timeFormat(datum.value, '%y') : slice(timeFormat(datum.value, '%b'), 0, 1)",
                "labelPadding": 4, "labelFlush": false, "labelOverlap": false, "labelBound": false
              }
            },
            "y": {
              "field": "v", "type": "quantitative",
              "scale": {"domain": [0, 2.5], "nice": false},
              "axis": {"orient": "right", "values": [0, 0.5, 1, 1.5, 2, 2.5], "format": ".1f", "grid": true, "labelPadding": 11, "title": "Millions", "titleAngle": 270, "titleBaseline": "top", "titlePadding": 10}
            }
          }
        }
      ]
    }
  ]
}
